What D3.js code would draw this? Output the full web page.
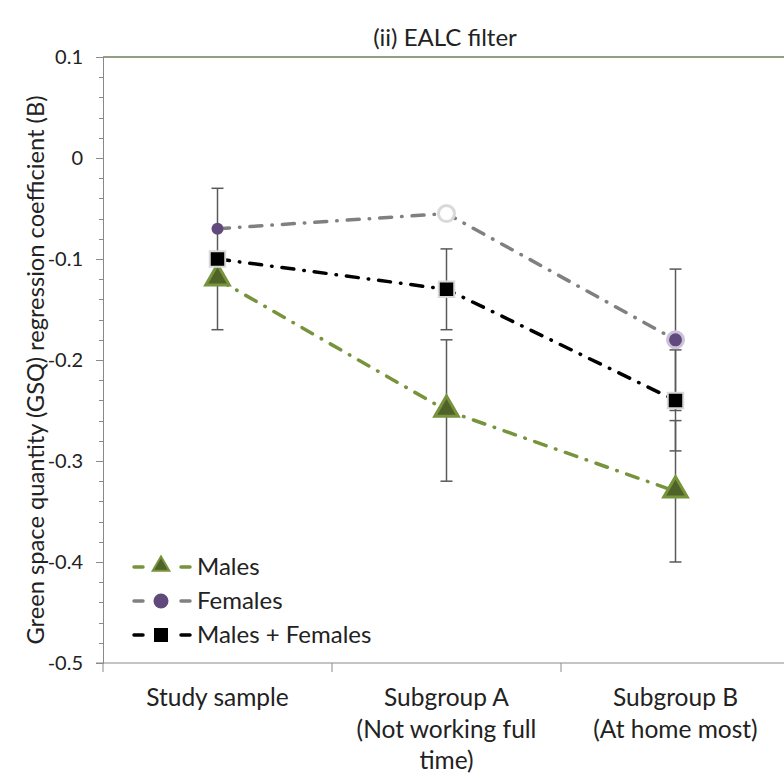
<!DOCTYPE html>
<html>
<head>
<meta charset="utf-8">
<script src="https://cdn.jsdelivr.net/npm/d3@7"></script>
<style>
  body { margin: 0; background: #fff; }
  svg text { font-family: Lato, "Open Sans", sans-serif; fill: #222; }
</style>
</head>
<body>
<div id="content"></div>
<script>
var categories = ["Study sample", "Subgroup A|(Not working full|time)", "Subgroup B|(At home most)"];
var males = [-0.12, -0.25, -0.33];
var malesErr = [null, 0.07, 0.07];
var females = [-0.07, -0.055, -0.18];
var femalesErr = [null, null, 0.07];
var both = [-0.10, -0.13, -0.24];
var bothErr = [0.07, 0.04, 0.05];
var yTicks = [0.1, 0, -0.1, -0.2, -0.3, -0.4, -0.5];

var W = 784, H = 774;
var margin = { top: 57, right: -6, bottom: 111, left: 103 };
var width = W - margin.left - margin.right,
    height = H - margin.top - margin.bottom;

var svg = d3.select("#content").append("svg")
    .attr("width", W)
    .attr("height", H);

var g = svg.append("g")
    .attr("transform", "translate(" + margin.left + "," + margin.top + ")");

var x = d3.scaleBand().domain(categories).range([0, width]);
var y = d3.scaleLinear().domain([-0.5, 0.1]).range([height, 0]);
var cx = function (i) { return x(categories[i]) + x.bandwidth() / 2; };

// top border
g.append("line")
    .attr("x1", 0).attr("x2", width)
    .attr("y1", 0).attr("y2", 0)
    .attr("stroke", "#6f7f5c").attr("stroke-width", 1.5);

// y axis
var yAxis = g.append("g")
    .call(d3.axisLeft(y).tickValues(yTicks).tickSize(7).tickPadding(13)
      .tickFormat(function (d) { return d == 0 ? "0" : d3.format(".1f")(d).replace("\u2212", "-"); }));
yAxis.select(".domain").attr("stroke", "#8a8a8a");
yAxis.selectAll(".tick line").attr("stroke", "#8a8a8a");
yAxis.selectAll("text").style("font-size", "20px").attr("fill", "#333");
// minor ticks
var minor = d3.range(-0.5, 0.1001, 0.02);
g.append("g").selectAll("line").data(minor).join("line")
    .attr("x1", -4).attr("x2", 0)
    .attr("y1", function (d) { return Math.round(y(d)) + 0.5; })
    .attr("y2", function (d) { return Math.round(y(d)) + 0.5; })
    .attr("stroke", "#8a8a8a");

// x axis
var xAxisG = g.append("g").attr("transform", "translate(0," + height + ")");
xAxisG.append("line")
    .attr("x1", -7).attr("x2", width)
    .attr("stroke", "#8a8a8a");
xAxisG.selectAll(".sep").data(d3.range(categories.length + 1)).join("line")
    .attr("x1", function (i) { return i * x.bandwidth(); })
    .attr("x2", function (i) { return i * x.bandwidth(); })
    .attr("y1", 0).attr("y2", 9)
    .attr("stroke", "#8a8a8a");
xAxisG.selectAll(".lab").data(categories).join("text")
    .attr("text-anchor", "middle")
    .style("font-size", "24.5px")
    .each(function (d, i) {
      var t = d3.select(this);
      d.split("|").forEach(function (s, k) {
        t.append("tspan").attr("x", cx(i)).attr("y", 43 + k * 31.5).text(s);
      });
    });

// title
svg.append("text")
    .attr("x", 445).attr("y", 46)
    .attr("text-anchor", "middle")
    .style("font-size", "24px")
    .text("(ii) EALC filter");

// y label
svg.append("text")
    .attr("transform", "translate(44," + 370 + ") rotate(-90)")
    .attr("text-anchor", "middle")
    .style("font-size", "23.7px")
    .text("Green space quantity (GSQ) regression coefficient (B)");

var dash = "12,10,0.5,10";
var line = d3.line().x(function (d, i) { return cx(i); }).y(function (d) { return y(d); });

// error bars
function errBars(vals, errs) {
  vals.forEach(function (v, i) {
    if (errs[i] == null) return;
    var eb = g.append("g").attr("stroke", "#595959").attr("stroke-width", 1.5);
    eb.append("line").attr("x1", cx(i)).attr("x2", cx(i))
      .attr("y1", y(v + errs[i])).attr("y2", y(v - errs[i]));
    [v + errs[i], v - errs[i]].forEach(function (e) {
      eb.append("line").attr("x1", cx(i) - 6).attr("x2", cx(i) + 6)
        .attr("y1", y(e)).attr("y2", y(e));
    });
  });
}
errBars(both, bothErr);
errBars(males, malesErr);
errBars(females, femalesErr);

// lines
g.append("path").datum(males).attr("d", line).attr("fill", "none")
  .attr("stroke", "#77933c").attr("stroke-width", 3.5).attr("stroke-dasharray", dash).attr("stroke-linecap", "round");
g.append("path").datum(females).attr("d", line).attr("fill", "none")
  .attr("stroke", "#808080").attr("stroke-width", 3.5).attr("stroke-dasharray", dash).attr("stroke-linecap", "round");
g.append("path").datum(both).attr("d", line).attr("fill", "none")
  .attr("stroke", "#000").attr("stroke-width", 3.5).attr("stroke-dasharray", dash).attr("stroke-linecap", "round");

// markers
var tri = d3.symbol().type(d3.symbolTriangle).size(240);
var sq = d3.symbol().type(d3.symbolSquare).size(240);
g.selectAll(".fem").data(females).join("circle")
  .attr("cx", function (d, i) { return cx(i); })
  .attr("cy", function (d) { return y(d); })
  .attr("r", function (d, i) { return i == 0 ? 6 : 8; })
  .attr("fill", function (d, i) { return i == 1 ? "#fff" : "#604a7b"; })
  .attr("stroke", function (d, i) { return i == 0 ? "none" : (i == 1 ? "#d9d9d9" : "#ccc1da"); })
  .attr("stroke-width", 3);
g.selectAll(".mal").data(males).join("path")
  .attr("d", tri)
  .attr("transform", function (d, i) { return "translate(" + cx(i) + "," + (y(d) - 1) + ")"; })
  .attr("fill", "#4f6228").attr("stroke", "#77933c").attr("stroke-width", 3);
g.selectAll(".both").data(both).join("path")
  .attr("d", sq)
  .attr("transform", function (d, i) { return "translate(" + cx(i) + "," + y(d) + ")"; })
  .attr("fill", "#000").attr("stroke", "#d9d9d9").attr("stroke-width", 2);

// legend
var legend = [
  { name: "Males", color: "#77933c", shape: "tri" },
  { name: "Females", color: "#808080", shape: "circ" },
  { name: "Males + Females", color: "#000", shape: "sq" }
];
var lg = svg.append("g");
legend.forEach(function (d, k) {
  var ly = 567 + k * 34;
  lg.append("line").attr("x1", 134).attr("x2", 143).attr("y1", ly).attr("y2", ly)
    .attr("stroke", d.color).attr("stroke-width", 3.5).attr("stroke-linecap", "round");
  lg.append("line").attr("x1", 181).attr("x2", 190).attr("y1", ly).attr("y2", ly)
    .attr("stroke", d.color).attr("stroke-width", 3.5).attr("stroke-linecap", "round");
  if (d.shape == "tri")
    lg.append("path").attr("d", d3.symbol().type(d3.symbolTriangle).size(120))
      .attr("transform", "translate(161," + (ly - 1) + ")").attr("fill", "#4f6228").attr("stroke", "#77933c").attr("stroke-width", 2);
  else if (d.shape == "circ")
    lg.append("circle").attr("cx", 161).attr("cy", ly).attr("r", 7.5).attr("fill", "#604a7b");
  else
    lg.append("rect").attr("x", 154).attr("y", ly - 7).attr("width", 14).attr("height", 14).attr("fill", "#000");
  lg.append("text").attr("x", 197).attr("y", ly + 8).style("font-size", "24px").text(d.name);
});
</script>
</body>
</html>
